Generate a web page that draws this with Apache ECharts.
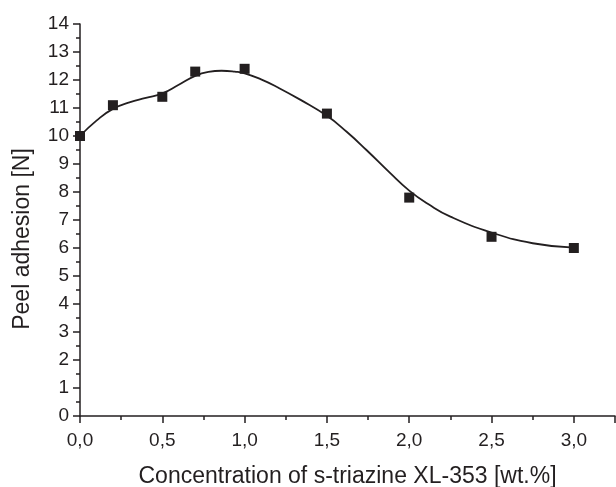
<!DOCTYPE html>
<html>
<head>
<meta charset="utf-8">
<script src="https://cdn.jsdelivr.net/npm/echarts@6/dist/echarts.min.js"></script>
<style>html,body{margin:0;padding:0;background:#fff}#c{width:616px;height:487px}</style>
</head>
<body>
<div id="c"></div>
<script>
// Measured data points
const pointX = [0, 0.2, 0.5, 0.7, 1.0, 1.5, 2.0, 2.5, 3.0];
const pointY = [10.0, 11.1, 11.4, 12.3, 12.4, 10.8, 7.8, 6.4, 6.0];
// Fitted curve
const curveX = [0, 0.1, 0.2, 0.3, 0.4, 0.5, 0.6, 0.7, 0.78, 0.86, 0.94, 1.0, 1.1, 1.2, 1.34, 1.5, 1.62, 1.74, 1.88, 2.0, 2.12, 2.25, 2.5, 2.75, 3.0];
const curveY = [10.0, 10.55, 10.97, 11.2, 11.36, 11.52, 11.83, 12.15, 12.29, 12.33, 12.3, 12.24, 12.02, 11.74, 11.29, 10.72, 10.15, 9.5, 8.7, 8.05, 7.55, 7.12, 6.55, 6.17, 6.01];
const xTitle = 'Concentration of s-triazine XL-353 [wt.%]';
const yTitle = 'Peel adhesion [N]';

const ink = '#231f20';
const font = 'Liberation Sans, Arial, sans-serif';
const chart = echarts.init(document.getElementById('c'));
chart.setOption({
  animation: false,
  backgroundColor: '#fff',
  grid: { left: 80, right: 1, top: 24, bottom: 71, containLabel: false, outerBoundsMode: 'none' },
  xAxis: {
    type: 'value', min: 0, max: 3.25, interval: 0.5,
    name: xTitle, nameLocation: 'middle', nameGap: 49,
    nameTextStyle: { fontFamily: font, fontSize: 23, color: ink },
    axisLine: { lineStyle: { color: ink, width: 1.5 } },
    axisTick: { length: 7, lineStyle: { color: ink, width: 1.5 } },
    minorTick: { show: true, splitNumber: 2, length: 4, lineStyle: { color: ink, width: 1.5 } },
    splitLine: { show: false },
    axisLabel: { fontFamily: font, fontSize: 19, color: ink, margin: 15,
      formatter: v => (v > 3.01 ? '' : v.toFixed(1).replace('.', ',')) }
  },
  yAxis: {
    type: 'value', min: 0, max: 14, interval: 1,
    name: yTitle, nameLocation: 'middle', nameGap: 46,
    nameTextStyle: { fontFamily: font, fontSize: 23, color: ink, padding: [0, 38, 0, 0] },
    axisLine: { lineStyle: { color: ink, width: 1.5 } },
    axisTick: { length: 7, lineStyle: { color: ink, width: 1.5 } },
    minorTick: { show: true, splitNumber: 2, length: 4, lineStyle: { color: ink, width: 1.5 } },
    splitLine: { show: false },
    axisLabel: { fontFamily: font, fontSize: 19, color: ink, margin: 11 }
  },
  series: [
    {
      type: 'line', smooth: 0.5, symbol: 'none',
      lineStyle: { color: ink, width: 1.8 },
      data: curveX.map((x, i) => [x, curveY[i]]),
      z: 2
    },
    {
      type: 'scatter', symbol: 'rect', symbolSize: 10,
      itemStyle: { color: ink, opacity: 1 },
      data: pointX.map((x, i) => [x, pointY[i]]),
      z: 3
    }
  ]
});
</script>
</body>
</html>
